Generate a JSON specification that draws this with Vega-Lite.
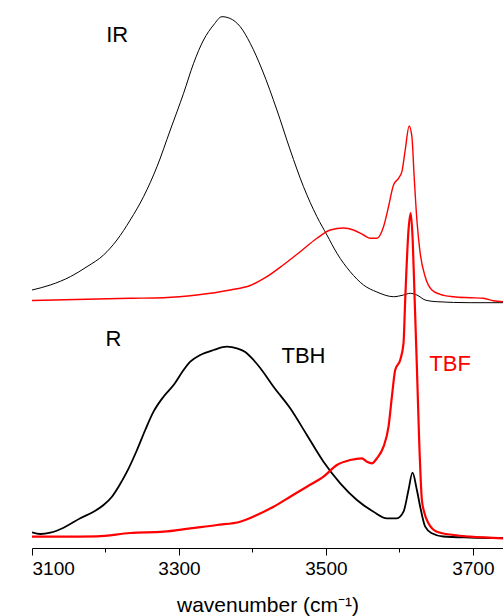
{
  "$schema": "https://vega.github.io/schema/vega-lite/v6.json",
  "autosize": "none",
  "width": 471,
  "height": 548,
  "padding": {"left": 32, "top": 0, "right": 0, "bottom": 68},
  "background": "white",
  "config": {"view": {"stroke": null}, "font": "Liberation Sans"},
  "datasets": {
    "spectra": [
      {"s": "IR TBH", "wn": 3100, "v": 258}, {"s": "IR TBH", "wn": 3124.9, "v": 263}, {"s": "IR TBH", "wn": 3152.1, "v": 271.3}, {"s": "IR TBH", "wn": 3174.8, "v": 281.3}, {"s": "IR TBH", "wn": 3197.4, "v": 293}, {"s": "IR TBH", "wn": 3215.6, "v": 308}, {"s": "IR TBH", "wn": 3233.7, "v": 328}, {"s": "IR TBH", "wn": 3251.8, "v": 351.3}, {"s": "IR TBH", "wn": 3270.1, "v": 381.3}, {"s": "IR TBH", "wn": 3288.2, "v": 418}, {"s": "IR TBH", "wn": 3306.3, "v": 454.7}, {"s": "IR TBH", "wn": 3319.9, "v": 484.7}, {"s": "IR TBH", "wn": 3333.5, "v": 508}, {"s": "IR TBH", "wn": 3347.1, "v": 523}, {"s": "IR TBH", "wn": 3358.5, "v": 531.3}, {"s": "IR TBH", "wn": 3369.8, "v": 529.5}, {"s": "IR TBH", "wn": 3383.4, "v": 521.3}, {"s": "IR TBH", "wn": 3397, "v": 504.7}, {"s": "IR TBH", "wn": 3413.3, "v": 478}, {"s": "IR TBH", "wn": 3433.3, "v": 438}, {"s": "IR TBH", "wn": 3451.4, "v": 398}, {"s": "IR TBH", "wn": 3469.5, "v": 361.3}, {"s": "IR TBH", "wn": 3487.8, "v": 331.3}, {"s": "IR TBH", "wn": 3501.4, "v": 313}, {"s": "IR TBH", "wn": 3515, "v": 294.7}, {"s": "IR TBH", "wn": 3533.1, "v": 276.3}, {"s": "IR TBH", "wn": 3551.2, "v": 263}, {"s": "IR TBH", "wn": 3569.4, "v": 256}, {"s": "IR TBH", "wn": 3592, "v": 251.3}, {"s": "IR TBH", "wn": 3605.6, "v": 253}, {"s": "IR TBH", "wn": 3614.7, "v": 254.7}, {"s": "IR TBH", "wn": 3623.8, "v": 253}, {"s": "IR TBH", "wn": 3635.1, "v": 248}, {"s": "IR TBH", "wn": 3651, "v": 246.3}, {"s": "IR TBH", "wn": 3696.3, "v": 245.3}, {"s": "IR TBH", "wn": 3741.2, "v": 245.3},
      {"s": "IR TBF", "wn": 3100, "v": 247.5}, {"s": "IR TBF", "wn": 3233.7, "v": 249.7}, {"s": "IR TBF", "wn": 3279, "v": 250.3}, {"s": "IR TBF", "wn": 3324.5, "v": 253}, {"s": "IR TBF", "wn": 3369.8, "v": 258}, {"s": "IR TBF", "wn": 3397, "v": 262.5}, {"s": "IR TBF", "wn": 3419.7, "v": 271.3}, {"s": "IR TBF", "wn": 3441.9, "v": 283}, {"s": "IR TBF", "wn": 3465, "v": 296.3}, {"s": "IR TBF", "wn": 3487.8, "v": 309.7}, {"s": "IR TBF", "wn": 3505.9, "v": 318}, {"s": "IR TBF", "wn": 3524, "v": 320}, {"s": "IR TBF", "wn": 3537.6, "v": 318}, {"s": "IR TBF", "wn": 3551.2, "v": 313}, {"s": "IR TBF", "wn": 3560.3, "v": 309.7}, {"s": "IR TBF", "wn": 3569.4, "v": 309.7}, {"s": "IR TBF", "wn": 3578.4, "v": 321.3}, {"s": "IR TBF", "wn": 3585.2, "v": 341.3}, {"s": "IR TBF", "wn": 3592, "v": 363}, {"s": "IR TBF", "wn": 3598.8, "v": 369.7}, {"s": "IR TBF", "wn": 3603.4, "v": 376.3}, {"s": "IR TBF", "wn": 3607.9, "v": 398}, {"s": "IR TBF", "wn": 3613.3, "v": 422}, {"s": "IR TBF", "wn": 3617, "v": 411.3}, {"s": "IR TBF", "wn": 3620.1, "v": 371.3}, {"s": "IR TBF", "wn": 3623.8, "v": 328}, {"s": "IR TBF", "wn": 3628.3, "v": 294.7}, {"s": "IR TBF", "wn": 3635.1, "v": 271.3}, {"s": "IR TBF", "wn": 3644.2, "v": 258}, {"s": "IR TBF", "wn": 3655.5, "v": 253.7}, {"s": "IR TBF", "wn": 3673.6, "v": 251.3}, {"s": "IR TBF", "wn": 3696.3, "v": 250.3}, {"s": "IR TBF", "wn": 3714.4, "v": 249.7}, {"s": "IR TBF", "wn": 3728, "v": 247.3}, {"s": "IR TBF", "wn": 3741.2, "v": 246.3},
      {"s": "R TBH", "wn": 3100, "v": 15.7}, {"s": "R TBH", "wn": 3111.3, "v": 14}, {"s": "R TBH", "wn": 3124.9, "v": 15.3}, {"s": "R TBH", "wn": 3143, "v": 20.3}, {"s": "R TBH", "wn": 3165.7, "v": 29.7}, {"s": "R TBH", "wn": 3183.8, "v": 36.3}, {"s": "R TBH", "wn": 3197.4, "v": 43}, {"s": "R TBH", "wn": 3208.8, "v": 51.3}, {"s": "R TBH", "wn": 3217.8, "v": 61.3}, {"s": "R TBH", "wn": 3229.3, "v": 76.3}, {"s": "R TBH", "wn": 3242.9, "v": 98}, {"s": "R TBH", "wn": 3254.1, "v": 118}, {"s": "R TBH", "wn": 3265.4, "v": 136.3}, {"s": "R TBH", "wn": 3279, "v": 151.3}, {"s": "R TBH", "wn": 3292.7, "v": 163}, {"s": "R TBH", "wn": 3306.3, "v": 178}, {"s": "R TBH", "wn": 3315.4, "v": 186.3}, {"s": "R TBH", "wn": 3329, "v": 193}, {"s": "R TBH", "wn": 3347.1, "v": 198}, {"s": "R TBH", "wn": 3365.3, "v": 201.3}, {"s": "R TBH", "wn": 3378.9, "v": 199.7}, {"s": "R TBH", "wn": 3390.2, "v": 196}, {"s": "R TBH", "wn": 3401.5, "v": 188}, {"s": "R TBH", "wn": 3410.6, "v": 180}, {"s": "R TBH", "wn": 3428.7, "v": 161.3}, {"s": "R TBH", "wn": 3451.4, "v": 139.7}, {"s": "R TBH", "wn": 3474.1, "v": 113}, {"s": "R TBH", "wn": 3496.7, "v": 86.3}, {"s": "R TBH", "wn": 3519.5, "v": 64.7}, {"s": "R TBH", "wn": 3542.2, "v": 48}, {"s": "R TBH", "wn": 3564.8, "v": 36.3}, {"s": "R TBH", "wn": 3583, "v": 29.7}, {"s": "R TBH", "wn": 3596.6, "v": 29.7}, {"s": "R TBH", "wn": 3605.6, "v": 36.3}, {"s": "R TBH", "wn": 3612.4, "v": 58}, {"s": "R TBH", "wn": 3617.8, "v": 75.3}, {"s": "R TBH", "wn": 3623.8, "v": 58}, {"s": "R TBH", "wn": 3628.3, "v": 41.3}, {"s": "R TBH", "wn": 3635.1, "v": 21.3}, {"s": "R TBH", "wn": 3644.2, "v": 14.7}, {"s": "R TBH", "wn": 3659.6, "v": 11.5}, {"s": "R TBH", "wn": 3696.3, "v": 10.5}, {"s": "R TBH", "wn": 3741.2, "v": 10},
      {"s": "R TBF", "wn": 3100, "v": 11.3}, {"s": "R TBF", "wn": 3143, "v": 11.3}, {"s": "R TBF", "wn": 3188.4, "v": 11.7}, {"s": "R TBF", "wn": 3233.7, "v": 15}, {"s": "R TBF", "wn": 3279, "v": 16.3}, {"s": "R TBF", "wn": 3315.4, "v": 19.7}, {"s": "R TBF", "wn": 3351.7, "v": 23}, {"s": "R TBF", "wn": 3383.4, "v": 26.3}, {"s": "R TBF", "wn": 3406.1, "v": 33}, {"s": "R TBF", "wn": 3428.7, "v": 41.3}, {"s": "R TBF", "wn": 3451.4, "v": 51.3}, {"s": "R TBF", "wn": 3474.1, "v": 61.3}, {"s": "R TBF", "wn": 3496.7, "v": 71.3}, {"s": "R TBF", "wn": 3515, "v": 83}, {"s": "R TBF", "wn": 3533.1, "v": 88}, {"s": "R TBF", "wn": 3549, "v": 89.7}, {"s": "R TBF", "wn": 3555.8, "v": 86.3}, {"s": "R TBF", "wn": 3562.6, "v": 84.7}, {"s": "R TBF", "wn": 3569.4, "v": 89.7}, {"s": "R TBF", "wn": 3578.4, "v": 101.3}, {"s": "R TBF", "wn": 3585.2, "v": 121.3}, {"s": "R TBF", "wn": 3589.8, "v": 151.3}, {"s": "R TBF", "wn": 3594.3, "v": 178}, {"s": "R TBF", "wn": 3601.1, "v": 188}, {"s": "R TBF", "wn": 3605.6, "v": 204.7}, {"s": "R TBF", "wn": 3607.9, "v": 248}, {"s": "R TBF", "wn": 3612.4, "v": 318}, {"s": "R TBF", "wn": 3615.4, "v": 335}, {"s": "R TBF", "wn": 3618.1, "v": 308}, {"s": "R TBF", "wn": 3620.8, "v": 248}, {"s": "R TBF", "wn": 3623.8, "v": 181.3}, {"s": "R TBF", "wn": 3626.9, "v": 108}, {"s": "R TBF", "wn": 3630.6, "v": 48}, {"s": "R TBF", "wn": 3633.7, "v": 36}, {"s": "R TBF", "wn": 3639.6, "v": 24.7}, {"s": "R TBF", "wn": 3651, "v": 16.3}, {"s": "R TBF", "wn": 3673.6, "v": 13}, {"s": "R TBF", "wn": 3696.3, "v": 11.3}, {"s": "R TBF", "wn": 3741.2, "v": 9.7}
    ],
    "labels": [
      {"t": "IR", "wn": 3216, "v": 513, "c": "black"},
      {"t": "R", "wn": 3211, "v": 209, "c": "black"},
      {"t": "TBH", "wn": 3469.5, "v": 192, "c": "black"},
      {"t": "TBF", "wn": 3669, "v": 184, "c": "red"}
    ]
  },
  "layer": [
    {
      "data": {"name": "spectra"},
      "mark": {"type": "line", "clip": true, "interpolate": "monotone"},
      "encoding": {
        "x": {
          "field": "wn", "type": "quantitative",
          "scale": {"domain": [3100, 3741], "nice": false, "zero": false},
          "axis": {
            "title": "wavenumber (cm⁻¹)",
            "values": [3100, 3200, 3300, 3400, 3500, 3600, 3700],
            "format": "d",
            "labelExpr": "datum.value % 200 == 100 ? datum.label : ''",
            "grid": false,
            "domainColor": "black", "domainWidth": 1,
            "tickColor": "black", "tickWidth": 1,
            "tickSize": {"condition": {"test": "datum.value % 200 == 100", "value": 7}, "value": 4},
            "labelFont": "Liberation Sans", "labelFontSize": 19, "labelColor": "black", "labelPadding": 4,
            "titleFont": "Liberation Sans", "titleFontSize": 21, "titleFontWeight": "normal", "titleColor": "black", "titlePadding": 16
          }
        },
        "y": {"field": "v", "type": "quantitative", "scale": {"domain": [0, 548], "nice": false}, "axis": null},
        "detail": {"field": "s"},
        "color": {"field": "s", "type": "nominal", "scale": {"domain": ["IR TBH", "IR TBF", "R TBH", "R TBF"], "range": ["black", "#ff0000", "black", "#ff0000"]}, "legend": null},
        "strokeWidth": {"field": "s", "type": "nominal", "scale": {"domain": ["IR TBH", "IR TBF", "R TBH", "R TBF"], "range": [1, 2.2, 1.1, 1.9]}, "legend": null}
      }
    },
    {
      "data": {"name": "labels"},
      "mark": {"type": "text", "font": "Liberation Sans", "fontSize": 22, "align": "center", "baseline": "middle"},
      "encoding": {
        "x": {"field": "wn", "type": "quantitative"},
        "y": {"field": "v", "type": "quantitative"},
        "text": {"field": "t"},
        "color": {"field": "c", "type": "nominal", "scale": null}
      }
    }
  ]
}
